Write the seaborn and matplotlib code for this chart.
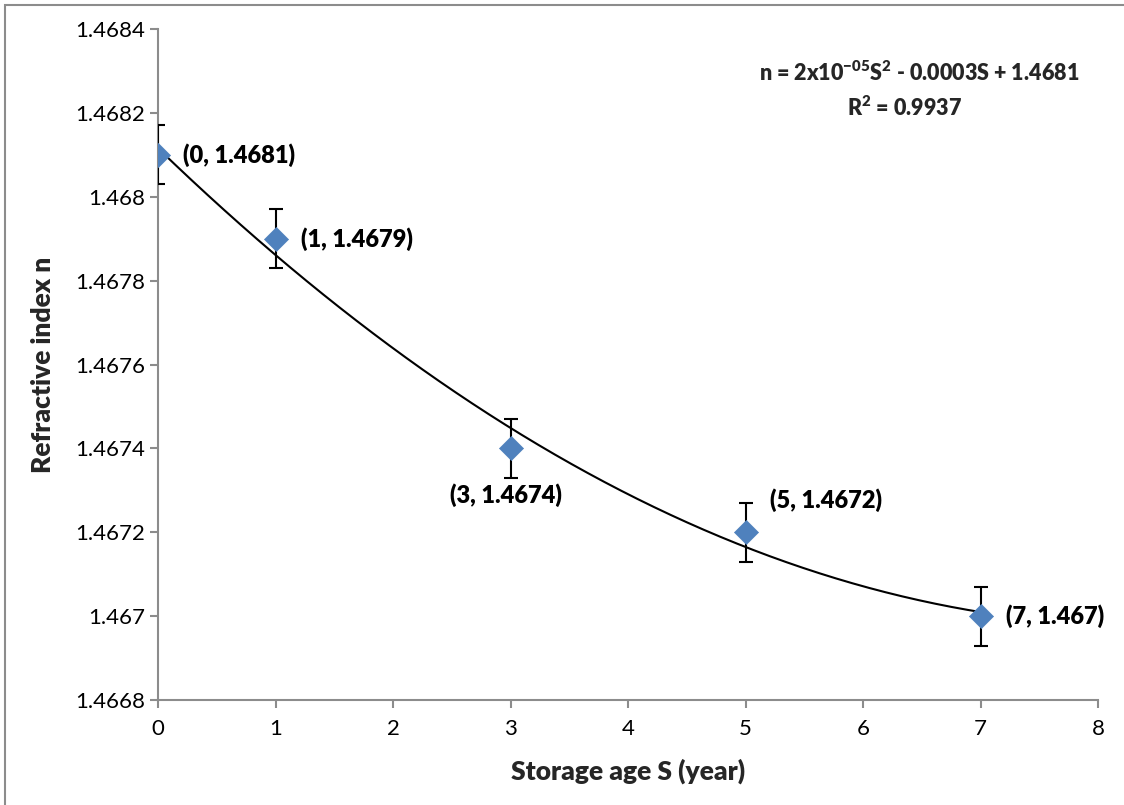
import numpy as np
import matplotlib
matplotlib.use("Agg")
import matplotlib.pyplot as plt
import seaborn as sns
import pandas as pd
from matplotlib.patches import Rectangle

storage_age = [0, 1, 3, 5, 7]
refractive_index = [1.4681, 1.4679, 1.4674, 1.4672, 1.4670]
error = [0.00007, 0.00007, 0.00007, 0.00007, 0.00007]
point_labels = ["(0, 1.4681)", "(1, 1.4679)", "(3, 1.4674)", "(5, 1.4672)", "(7, 1.467)"]
x_ticks = [0, 1, 2, 3, 4, 5, 6, 7, 8]
y_ticks = [1.4668, 1.467, 1.4672, 1.4674, 1.4676, 1.4678, 1.468, 1.4682, 1.4684]
y_tick_labels = ["1.4668", "1.467", "1.4672", "1.4674", "1.4676", "1.4678", "1.468", "1.4682", "1.4684"]

sns.set_theme(style="white")
plt.rcParams['font.family'] = ['Lato', 'DejaVu Sans']
plt.rcParams['mathtext.fontset'] = 'custom'
plt.rcParams['mathtext.bf'] = 'Lato:heavy'
plt.rcParams['mathtext.rm'] = 'Lato'

df = pd.DataFrame({"S": storage_age, "n": refractive_index})

fig = plt.figure(figsize=(11.24, 8.05), dpi=100)
ax = fig.add_axes([0.1406, 0.1304, 0.8363, 0.8336])

# trendline (quadratic fit of the data)
coef = np.polyfit(storage_age, refractive_index, 2)
xs = np.linspace(min(storage_age), max(storage_age), 200)
ax.plot(xs, np.polyval(coef, xs), color="black", lw=1.5, zorder=2)

ax.errorbar(storage_age, refractive_index, yerr=error, fmt="none",
            ecolor="black", elinewidth=1.5, capsize=5, capthick=1.5, zorder=3)
sns.scatterplot(data=df, x="S", y="n", marker="D", s=150, color="#4F81BD",
                edgecolor="#4F81BD", linewidth=0.5, ax=ax, zorder=4, legend=False)

offsets = [(18, 0, 'left', 'center'), (18, 0, 'left', 'center'),
           (-3, -34, 'center', 'center'), (58, 23, 'center', 'center'),
           (18, 0, 'left', 'center')]
for x, y, lab, (dx, dy, ha, va) in zip(storage_age, refractive_index, point_labels, offsets):
    ax.annotate(lab, (x, y), xytext=(dx, dy), textcoords="offset points",
                ha=ha, va=va, fontsize=17, fontweight="heavy", color="black")

ax.set_xlim(0, 8)
ax.set_ylim(1.4668, 1.4684)
ax.set_xticks(x_ticks)
ax.set_yticks(y_ticks)
ax.set_yticklabels(y_tick_labels)
ax.tick_params(axis="both", labelsize=16, colors="black", length=6, width=1.5,
               direction="out", left=True, bottom=True)
ax.tick_params(axis="both", color="#8c8c8c")
ax.tick_params(axis="x", pad=8)
for side in ["top", "right"]:
    ax.spines[side].set_visible(False)
for side in ["left", "bottom"]:
    ax.spines[side].set_color("#8c8c8c")
    ax.spines[side].set_linewidth(1.5)
ax.set_xlabel("Storage age S (year)", fontsize=19, fontweight="heavy", labelpad=14)
ax.set_ylabel("Refractive index n", fontsize=19, fontweight="heavy", labelpad=14)

fig.text(0.818, 0.91, r"n = 2x10$^{\mathbf{-05}}$S$^{\mathbf{2}}$ - 0.0003S + 1.4681",
         ha="center", va="center", fontsize=15.5, fontweight="heavy")
fig.text(0.805, 0.866, r"R$^{\mathbf{2}}$ = 0.9937", ha="center", va="center",
         fontsize=15.5, fontweight="heavy")

fig.patches.append(Rectangle((5 / 1124, -0.05), 1.2, 0.05 + 1 - 5 / 805,
                             transform=fig.transFigure, fill=False,
                             edgecolor="#8c8c8c", lw=1.5))

fig.savefig("out.png", dpi=100)
